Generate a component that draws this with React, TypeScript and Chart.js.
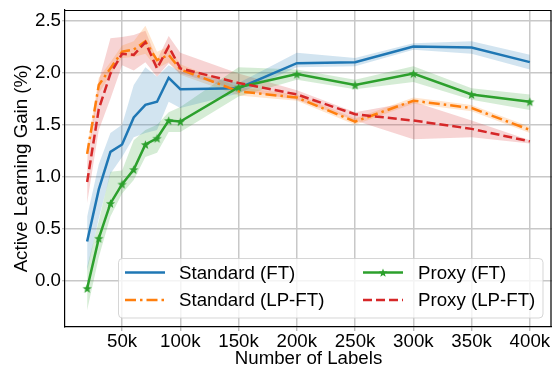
import React, { useEffect, useRef } from 'react';
import { Chart, registerables } from 'chart.js';

Chart.register(...registerables);

// ---------- data ----------
const numLabels = [20000, 30000, 40000, 50000, 60000, 70000, 80000, 90000, 100000, 150000, 200000, 250000, 300000, 350000, 400000];
const xTickValues = [50000, 100000, 150000, 200000, 250000, 300000, 350000, 400000];
const yTickValues = [0, 0.5, 1.0, 1.5, 2.0, 2.5];

const standardFT = [0.38, 0.88, 1.24, 1.31, 1.57, 1.69, 1.72, 1.95, 1.84, 1.85, 2.09, 2.10, 2.25, 2.24, 2.10];
const standardFTUpper = [0.62, 1.12, 1.42, 1.50, 1.88, 2.05, 1.96, 2.07, 2.01, 1.90, 2.19, 2.14, 2.28, 2.30, 2.17];
const standardFTLower = [0.10, 0.60, 1.03, 1.19, 1.38, 1.42, 1.45, 1.72, 1.66, 1.80, 2.05, 2.06, 2.22, 2.18, 2.03];

const standardLPFT = [1.22, 1.88, 2.04, 2.20, 2.22, 2.30, 2.12, 2.17, 2.03, 1.82, 1.76, 1.53, 1.73, 1.66, 1.45];
const standardLPFTUpper = [1.28, 1.95, 2.10, 2.26, 2.30, 2.45, 2.20, 2.25, 2.08, 1.86, 1.79, 1.56, 1.76, 1.69, 1.48];
const standardLPFTLower = [1.16, 1.80, 1.98, 2.14, 2.15, 2.18, 2.04, 2.10, 1.98, 1.78, 1.73, 1.50, 1.70, 1.63, 1.42];

const proxyFT = [-0.07, 0.41, 0.745, 0.93, 1.07, 1.31, 1.37, 1.54, 1.53, 1.86, 1.985, 1.88, 1.99, 1.79, 1.72];
const proxyFTUpper = [0.14, 0.58, 1.05, 1.06, 1.35, 1.45, 1.50, 1.62, 1.67, 2.05, 2.03, 1.93, 2.06, 1.85, 1.79];
const proxyFTLower = [-0.28, 0.23, 0.62, 0.84, 0.97, 1.19, 1.23, 1.43, 1.43, 1.77, 1.93, 1.84, 1.91, 1.74, 1.64];

const proxyLPFT = [0.95, 1.65, 1.99, 2.18, 2.17, 2.29, 2.04, 2.25, 2.04, 1.90, 1.79, 1.60, 1.54, 1.46, 1.34];
const proxyLPFTUpper = [1.15, 1.92, 2.33, 2.34, 2.36, 2.40, 2.12, 2.35, 2.19, 1.99, 1.83, 1.62, 1.72, 1.54, 1.35];
const proxyLPFTLower = [0.75, 1.45, 1.75, 2.07, 2.02, 2.10, 1.96, 2.09, 1.99, 1.83, 1.74, 1.54, 1.36, 1.38, 1.32];

const FONT = '"Liberation Sans", Arial, sans-serif';
const FS = 18.7;

type Series = {
  name: string; color: string; rgb: string; mean: number[]; upper: number[]; lower: number[];
  dash: number[]; star: boolean; order: number;
};

const series: Series[] = [
  { name: 'Standard (FT)', color: '#1f77b4', rgb: '31,119,180', mean: standardFT, upper: standardFTUpper, lower: standardFTLower, dash: [], star: false, order: 3 },
  { name: 'Standard (LP-FT)', color: '#ff7f0e', rgb: '255,127,14', mean: standardLPFT, upper: standardLPFTUpper, lower: standardLPFTLower, dash: [11, 4, 2.5, 4], star: false, order: 2 },
  { name: 'Proxy (FT)', color: '#2ca02c', rgb: '44,160,44', mean: proxyFT, upper: proxyFTUpper, lower: proxyFTLower, dash: [], star: true, order: 1 },
  { name: 'Proxy (LP-FT)', color: '#d62728', rgb: '214,39,40', mean: proxyLPFT, upper: proxyLPFTUpper, lower: proxyLPFTLower, dash: [9, 4], star: false, order: 0 },
];

function drawStar(ctx: CanvasRenderingContext2D, cx: number, cy: number, r: number) {
  const inner = r * 0.42;
  ctx.beginPath();
  for (let i = 0; i < 10; i++) {
    const rad = i % 2 === 0 ? r : inner;
    const ang = -Math.PI / 2 + (i * Math.PI) / 5;
    const x = cx + rad * Math.cos(ang);
    const y = cy + rad * Math.sin(ang);
    if (i === 0) ctx.moveTo(x, y); else ctx.lineTo(x, y);
  }
  ctx.closePath();
  ctx.fill();
}

const framePlugin = {
  id: 'frame',
  afterDatasetsDraw(chart: any) {
    const { ctx, chartArea: a } = chart;
    ctx.save();
    ctx.strokeStyle = '#000';
    ctx.lineWidth = 1.2;
    ctx.beginPath();
    ctx.moveTo(a.left, a.top + 0.5);
    ctx.lineTo(a.right - 1, a.top + 0.5);
    ctx.lineTo(a.right - 1, a.bottom);
    ctx.stroke();
    ctx.restore();
  },
  afterDraw(chart: any) {
    const { ctx } = chart;
    ctx.save();
    const bx = 118.5, by = 258.5, bw = 424.5, bh = 59.5, r = 4;
    ctx.beginPath();
    ctx.moveTo(bx + r, by);
    ctx.lineTo(bx + bw - r, by);
    ctx.quadraticCurveTo(bx + bw, by, bx + bw, by + r);
    ctx.lineTo(bx + bw, by + bh - r);
    ctx.quadraticCurveTo(bx + bw, by + bh, bx + bw - r, by + bh);
    ctx.lineTo(bx + r, by + bh);
    ctx.quadraticCurveTo(bx, by + bh, bx, by + bh - r);
    ctx.lineTo(bx, by + r);
    ctx.quadraticCurveTo(bx, by, bx + r, by);
    ctx.closePath();
    ctx.fillStyle = 'rgba(255,255,255,0.8)';
    ctx.fill();
    ctx.strokeStyle = 'rgba(204,204,204,0.8)';
    ctx.lineWidth = 1;
    ctx.stroke();

    const cols = [{ lx: 125, tx: 179 }, { lx: 363, tx: 418 }];
    const rows = [272.5, 300];
    series.forEach((s, i) => {
      const col = cols[Math.floor(i / 2)];
      const y = rows[i % 2];
      ctx.strokeStyle = s.color;
      ctx.lineWidth = 2.5;
      ctx.setLineDash(s.dash);
      ctx.beginPath();
      ctx.moveTo(col.lx, y);
      ctx.lineTo(col.lx + 40, y);
      ctx.stroke();
      ctx.setLineDash([]);
      if (s.star) {
        ctx.fillStyle = s.color;
        drawStar(ctx, col.lx + 20, y + 0.5, 4.5);
      }
      ctx.fillStyle = '#000';
      ctx.font = `${FS}px ${FONT}`;
      ctx.textBaseline = 'middle';
      ctx.textAlign = 'left';
      ctx.fillText(s.name, col.tx, y + 1);
    });
    ctx.restore();
  },
};

export default function App() {
  const ref = useRef<HTMLCanvasElement>(null);
  useEffect(() => {
    const starCanvas = document.createElement('canvas');
    starCanvas.width = 11;
    starCanvas.height = 11;
    const sctx = starCanvas.getContext('2d')!;
    sctx.fillStyle = '#2ca02c';
    drawStar(sctx, 5.5, 6, 4.8);

    const datasets: any[] = [];
    series.forEach((s) => {
      datasets.push({
        label: s.name + ' upper',
        data: numLabels.map((x, j) => ({ x, y: s.upper[j] })),
        borderWidth: 0,
        borderColor: 'rgba(0,0,0,0)',
        pointRadius: 0,
        backgroundColor: `rgba(${s.rgb},0.2)`,
        fill: '+1',
        order: 10,
      });
      datasets.push({
        label: s.name + ' lower',
        data: numLabels.map((x, j) => ({ x, y: s.lower[j] })),
        borderWidth: 0,
        borderColor: 'rgba(0,0,0,0)',
        pointRadius: 0,
        fill: false,
        order: 10,
      });
    });
    series.forEach((s) => {
      datasets.push({
        label: s.name,
        data: numLabels.map((x, j) => ({ x, y: s.mean[j] })),
        borderColor: s.color,
        borderWidth: 2.5,
        borderDash: s.dash,
        pointRadius: s.star ? 5 : 0,
        pointStyle: s.star ? starCanvas : 'circle',
        fill: false,
        tension: 0,
        order: s.order,
      });
    });

    const chart = new Chart(ref.current!, {
      type: 'line',
      data: { datasets },
      options: {
        responsive: false,
        animation: false,
        layout: { autoPadding: false, padding: { top: 10, right: 0, left: 0, bottom: 0 } },
        plugins: {
          legend: { display: false },
          tooltip: { enabled: false },
          filler: { drawTime: 'beforeDatasetsDraw' },
        } as any,
        scales: {
          x: {
            type: 'linear',
            min: 1000,
            max: 419000,
            afterFit: (scale: any) => { scale.height = 41; scale.paddingLeft = 0; scale.paddingRight = 0; },
            afterBuildTicks: (scale: any) => { scale.ticks = xTickValues.map((v) => ({ value: v })); },
            ticks: {
              autoSkip: false,
              maxRotation: 0,
              padding: 0,
              color: '#000',
              font: { family: FONT, size: FS },
              callback: (v: any) => `${Math.round(Number(v) / 1000)}k`,
            },
            grid: { color: '#c8c8c8', lineWidth: 1.5, drawTicks: true, tickLength: 4, tickColor: '#b0b0b0', tickWidth: 1.2 },
            border: { display: true, color: '#000', width: 1.2 },
            title: { display: true, text: 'Number of Labels', color: '#000', font: { family: FONT, size: FS }, padding: { top: 0, bottom: -2.5 } },
          },
          y: {
            type: 'linear',
            min: -0.44,
            max: 2.6,
            afterFit: (scale: any) => { scale.width = 65; scale.paddingTop = 0; scale.paddingBottom = 0; },
            afterBuildTicks: (scale: any) => { scale.ticks = yTickValues.map((v) => ({ value: v })); },
            ticks: {
              autoSkip: false,
              padding: 1,
              color: '#000',
              font: { family: FONT, size: FS },
              callback: (v: any) => Number(v).toFixed(1),
            },
            grid: { color: '#c8c8c8', lineWidth: 1.5, drawTicks: true, tickLength: 3, tickColor: '#b0b0b0', tickWidth: 1.2 },
            border: { display: true, color: '#000', width: 1.2 },
            title: { display: true, text: 'Active Learning Gain (%)', color: '#000', font: { family: FONT, size: FS }, padding: { top: 11, bottom: 0 } },
          },
        },
      } as any,
      plugins: [framePlugin],
    });
    return () => chart.destroy();
  }, []);
  return (
    <div style={{ position: 'fixed', left: 0, top: 0, width: 552, height: 368, background: '#fff' }}>
      <canvas ref={ref} width={552} height={368} style={{ display: 'block' }} />
    </div>
  );
}
